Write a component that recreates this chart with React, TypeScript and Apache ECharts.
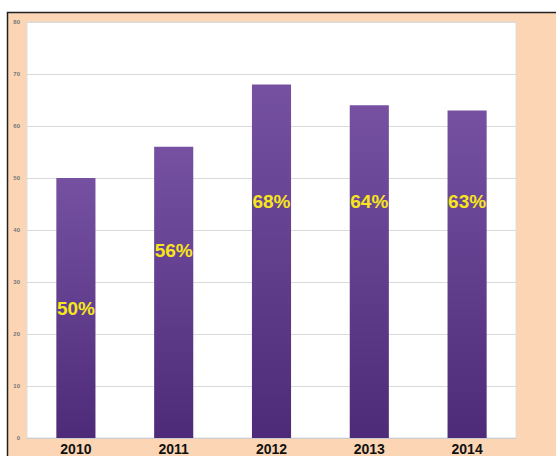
import React, { useEffect, useRef } from "react";
import * as echarts from "echarts";

const categories = ["2010", "2011", "2012", "2013", "2014"];
const values = [50, 56, 68, 64, 63];
const labelTexts = ["50%", "56%", "68%", "64%", "63%"];
const labelLevels = [25, 36, 45.4, 45.4, 45.4];
const yTicks = { min: 0, max: 80, interval: 10 };

export default function App() {
  const ref = useRef<HTMLDivElement>(null);
  useEffect(() => {
    if (!ref.current) return;
    const chart = echarts.init(ref.current, null, { renderer: "svg" });
    chart.setOption({
      animation: false,
      backgroundColor: "#ffffff",
      graphic: [
        {
          type: "rect",
          z: -10,
          shape: { x: 7.5, y: 12.5, width: 560, height: 460 },
          style: { fill: "#FCD5B4", stroke: "#222222", lineWidth: 1.5 },
        },
      ],
      grid: {
        left: 27,
        top: 22,
        right: 40,
        bottom: 16,
        show: true,
        backgroundColor: "#ffffff",
        borderColor: "#dddddd",
        borderWidth: 1,
      },
      xAxis: {
        type: "category",
        data: categories,
        axisLine: { lineStyle: { color: "#cccccc" } },
        axisTick: { show: false },
        axisLabel: {
          color: "#111111",
          fontWeight: "bold",
          fontSize: 14,
          fontFamily: "Liberation Sans, Arial, sans-serif",
          margin: 4,
        },
      },
      yAxis: {
        type: "value",
        min: yTicks.min,
        max: yTicks.max,
        interval: yTicks.interval,
        axisLine: { show: false },
        axisTick: { show: false },
        splitLine: { lineStyle: { color: "#dadada", width: 1 } },
        axisLabel: {
          color: "#777777",
          fontSize: 6,
          fontWeight: "bold",
          fontFamily: "Liberation Sans, Arial, sans-serif",
          margin: 7,
        },
      },
      series: [
        {
          type: "bar",
          data: values,
          barWidth: "40%",
          itemStyle: {
            color: new echarts.graphic.LinearGradient(0, 0, 0, 1, [
              { offset: 0, color: "#7651A2" },
              { offset: 1, color: "#4E2B79" },
            ]),
          },
        },
        {
          type: "scatter",
          data: labelLevels,
          symbol: "circle",
          symbolSize: 0,
          itemStyle: { color: "#6A4596", opacity: 1 },
          label: {
            show: true,
            position: "inside",
            formatter: (p: any) => labelTexts[p.dataIndex],
            color: "#F7E61A",
            opacity: 1,
            fontSize: 19,
            fontWeight: "bold",
            fontFamily: "Liberation Sans, Arial, sans-serif",
          },
          z: 5,
        },
      ],
    });
    return () => chart.dispose();
  }, []);
  return (
    <div
      ref={ref}
      style={{ position: "absolute", left: 0, top: 0, width: 556, height: 456 }}
    />
  );
}
